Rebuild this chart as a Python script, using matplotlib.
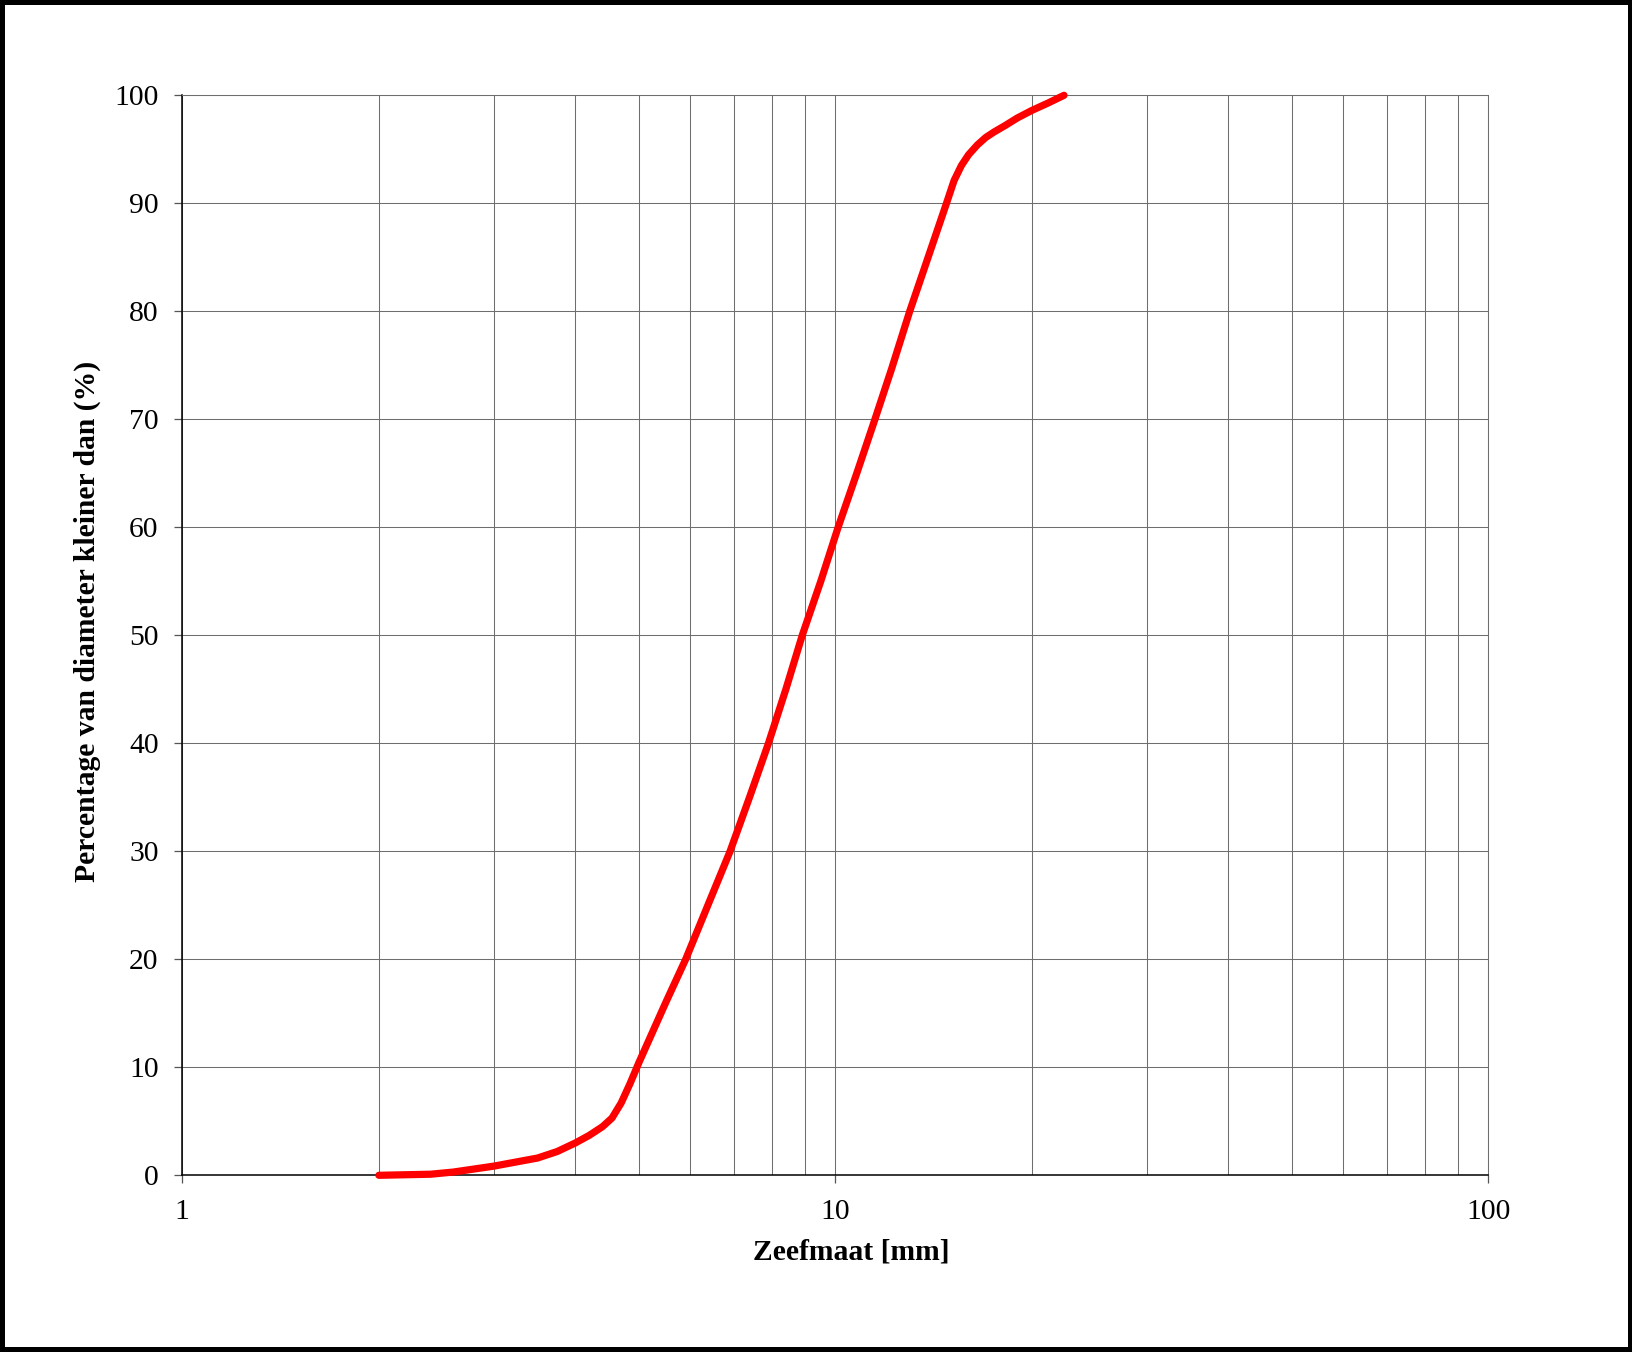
import matplotlib
matplotlib.use("Agg")
import matplotlib.pyplot as plt
from matplotlib.ticker import FixedLocator, NullFormatter

# Sieve analysis: cumulative percentage passing per sieve size (mm)
sieve_mm = [2.0, 2.4, 2.6, 3.0, 3.5, 3.75, 4.0, 4.2, 4.4, 4.55, 4.7, 4.85,
            5.0, 5.5, 5.9, 6.4, 6.9, 7.4, 7.9, 8.4, 8.9, 9.5, 10.1, 10.8,
            11.5, 12.2, 13.0, 13.8, 14.8, 15.2, 15.6, 16.0, 16.5, 17.0, 17.5,
            18.2, 19.0, 20.0, 21.2, 22.4]
passing_pct = [0.0, 0.1, 0.3, 0.85, 1.6, 2.2, 3.0, 3.7, 4.5, 5.3, 6.7, 8.5,
               10.4, 16.0, 20.0, 25.2, 30.0, 35.1, 40.0, 45.0, 50.0, 55.0, 60.0,
               65.1, 70.0, 74.7, 80.0, 84.6, 90.0, 92.1, 93.5, 94.5, 95.4, 96.1,
               96.6, 97.2, 97.9, 98.6, 99.3, 100.0]

x_major_ticks = [1, 10, 100]
x_tick_labels = ["1", "10", "100"]
y_ticks = [0, 10, 20, 30, 40, 50, 60, 70, 80, 90, 100]
x_minor_ticks = [2, 3, 4, 5, 6, 7, 8, 9, 20, 30, 40, 50, 60, 70, 80, 90]

plt.rcParams["font.family"] = ["Liberation Serif", "DejaVu Serif"]

W, H = 1633, 1352
fig = plt.figure(figsize=(W / 100, H / 100), dpi=100)
fig.patch.set_facecolor("white")
fig.patch.set_edgecolor("black")
fig.patch.set_linewidth(6)

left, right, top, bottom = 182.3, 1488.3, 95.3, 1175.3
ax = fig.add_axes([left / W, 1 - bottom / H, (right - left) / W, (bottom - top) / H])

ax.set_xscale("log")
ax.set_xlim(1, 100)
ax.set_ylim(0, 100)

ax.xaxis.set_major_locator(FixedLocator(x_major_ticks))
ax.set_xticklabels(x_tick_labels)
ax.xaxis.set_minor_locator(FixedLocator(x_minor_ticks))
ax.xaxis.set_minor_formatter(NullFormatter())
ax.set_yticks(y_ticks)
ax.set_yticklabels([str(v) for v in y_ticks])

grid_color = "#6e6e6e"
ax.grid(True, which="major", axis="both", color=grid_color, linewidth=0.75)
ax.grid(True, which="minor", axis="x", color=grid_color, linewidth=0.75)
ax.set_axisbelow(True)

for side in ("left", "bottom"):
    ax.spines[side].set_color("black")
    ax.spines[side].set_linewidth(1.1)
for side in ("top", "right"):
    ax.spines[side].set_color(grid_color)
    ax.spines[side].set_linewidth(0.75)

ax.tick_params(axis="both", which="major", direction="out", length=6,
               width=0.9, color="#555555", labelsize=21.3, pad=11)
ax.tick_params(axis="x", which="minor", length=0)

ax.plot(sieve_mm, passing_pct, color="#ff0000", linewidth=5.2,
        solid_capstyle="round", solid_joinstyle="round", zorder=5, clip_on=False)

ax.set_xlabel("Zeefmaat [mm]", fontsize=21.3, fontweight="bold", va="center")
ax.xaxis.set_label_coords(0.512, -0.071)
ax.set_ylabel("Percentage van diameter kleiner dan (%)", fontsize=21.3,
              fontweight="bold", va="center")
ax.yaxis.set_label_coords(-0.073, 0.513)

fig.savefig("out.png", dpi=100, facecolor=fig.get_facecolor(),
            edgecolor=fig.get_edgecolor())
